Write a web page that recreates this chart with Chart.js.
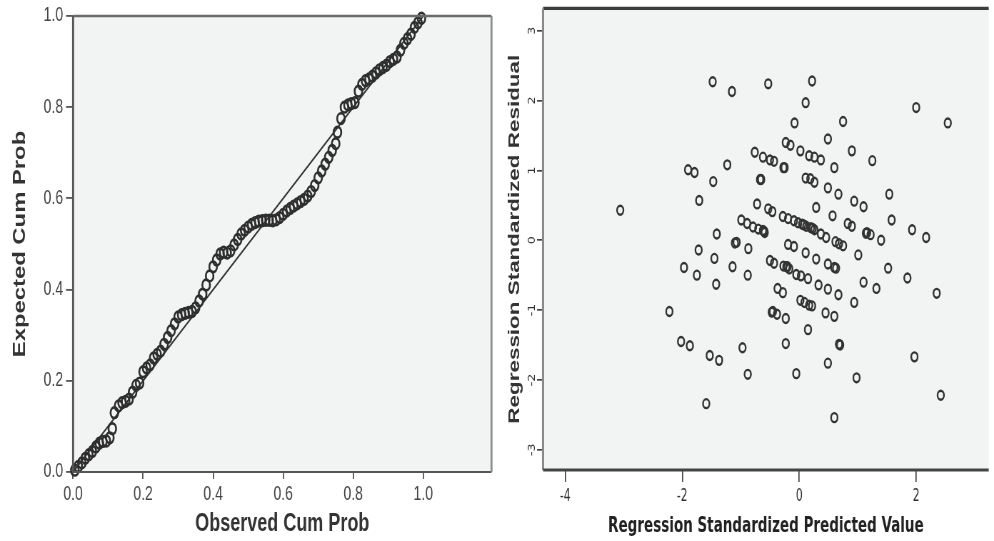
<!DOCTYPE html>
<html>
<head>
  <title>P-P Plot and Residual Scatterplot</title>
  <script src="https://cdn.jsdelivr.net/npm/chart.js@4.4.1/dist/chart.umd.min.js"></script>
  <style>
    body {
      margin: 0;
      background-color: white;
      overflow: hidden;
    }
    .panel {
      position: absolute;
      top: 0;
      transform-origin: 0 0;
    }
  </style>
</head>
<body>
  <div class="panel" id="leftPanel" style="left:0px"><canvas id="ppChart" width="497" height="386"></canvas></div>
  <div class="panel" id="rightPanel" style="left:497px"><canvas id="residChart" width="497" height="386"></canvas></div>

  <script>
    // P-P plot: observed vs expected cumulative probability
    var ppObserved = [0.005, 0.015, 0.025, 0.035, 0.045, 0.055, 0.065, 0.075, 0.085, 0.095,
      0.105, 0.112, 0.118, 0.13, 0.14, 0.15, 0.16, 0.17, 0.18, 0.19,
      0.20, 0.21, 0.22, 0.23, 0.24, 0.25, 0.26, 0.27, 0.28, 0.29,
      0.30, 0.31, 0.32, 0.33, 0.34, 0.35, 0.36, 0.37, 0.38, 0.39,
      0.40, 0.41, 0.42, 0.43, 0.44, 0.45, 0.46, 0.47, 0.48, 0.49,
      0.50, 0.51, 0.52, 0.53, 0.54, 0.55, 0.56, 0.57, 0.58, 0.59,
      0.60, 0.61, 0.62, 0.63, 0.64, 0.65, 0.66, 0.67, 0.68, 0.69,
      0.70, 0.71, 0.72, 0.73, 0.74, 0.75, 0.755, 0.765, 0.775, 0.785,
      0.795, 0.805, 0.815, 0.825, 0.835, 0.845, 0.855, 0.865, 0.875, 0.885,
      0.895, 0.905, 0.915, 0.925, 0.935, 0.945, 0.955, 0.965, 0.975, 0.985, 0.995];
    var ppExpected = [0.004, 0.012, 0.02, 0.03, 0.038, 0.045, 0.055, 0.063, 0.067, 0.068,
      0.075, 0.095, 0.13, 0.145, 0.152, 0.155, 0.16, 0.175, 0.19, 0.195,
      0.22, 0.228, 0.235, 0.25, 0.258, 0.265, 0.28, 0.295, 0.31, 0.325,
      0.34, 0.345, 0.348, 0.35, 0.352, 0.36, 0.375, 0.39, 0.41, 0.43,
      0.45, 0.465, 0.478, 0.482, 0.48, 0.485, 0.498, 0.51, 0.522, 0.53,
      0.537, 0.543, 0.547, 0.55, 0.551, 0.552, 0.552, 0.551, 0.553, 0.558,
      0.565, 0.572, 0.578, 0.583, 0.588, 0.593, 0.598, 0.605, 0.615, 0.628,
      0.645, 0.66, 0.675, 0.69, 0.705, 0.72, 0.745, 0.775, 0.80, 0.805,
      0.808, 0.81, 0.835, 0.85, 0.858, 0.862, 0.868, 0.875, 0.882, 0.887,
      0.892, 0.90, 0.905, 0.91, 0.925, 0.94, 0.95, 0.96, 0.975, 0.985, 0.995];
    var refLineX = [0, 1];
    var refLineY = [0, 1];
    var ppTicks = [0.0, 0.2, 0.4, 0.6, 0.8, 1.0];

    // Scatterplot: standardized predicted value vs standardized residual
    var predicted = [-3.06, -1.48, -1.15, -0.53, 0.22, 0.11, -0.08, 0.75, 2.00, 2.54,
      0.49, -0.23, -0.15, 0.90, 0.02, 0.17, 0.26, 0.37, 1.25, -0.76,
      -0.62, -0.50, -0.43, -0.27, -0.25, 0.60, -1.23, -1.90, -1.79, -1.47,
      -0.67, -0.65, 0.11, 0.19, 0.26, 0.49, 0.67, 1.54, -1.71, -0.72,
      -0.53, -0.46, 0.29, 0.94, 1.10, 0.57, 1.58, -0.99, -0.89, -0.79,
      -0.70, -0.62, -0.59, -0.60, -0.28, -0.19, -0.09, -0.02, 0.05, 0.08,
      0.12, 0.20, 0.23, 0.26, 0.37, 0.46, 0.83, 0.90, 1.14, 1.16,
      1.22, 1.40, 1.93, 2.17, -1.41, -1.10, -1.07, -0.87, -1.72, -0.19,
      -0.09, 0.11, 0.62, 0.68, 0.75, 1.01, 0.29, -1.45, -1.97, -1.14,
      -0.50, -0.43, -0.27, -0.22, -0.20, -0.17, 0.49, 0.60, 0.63, 1.52,
      -1.75, -0.88, -0.05, 0.03, 0.15, 1.85, -1.42, 0.33, 0.49, 1.10,
      1.32, -0.37, -0.28, 0.67, 2.35, 0.94, 0.02, 0.09, 0.17, 0.22,
      -2.22, -0.47, -0.45, -0.38, -0.23, 0.45, 0.60, 0.15, -2.02, -1.87,
      -0.97, -0.23, 0.68, 0.70, -1.53, -1.37, 1.97, 0.49, -0.88, -0.05,
      0.98, 2.42, -1.59, 0.60];
    var residual = [0.43, 2.27, 2.13, 2.24, 2.28, 1.97, 1.68, 1.70, 1.90, 1.68,
      1.45, 1.40, 1.36, 1.28, 1.28, 1.21, 1.19, 1.15, 1.14, 1.26,
      1.19, 1.15, 1.13, 1.04, 1.04, 1.04, 1.08, 1.01, 0.97, 0.84,
      0.87, 0.87, 0.89, 0.88, 0.83, 0.75, 0.66, 0.66, 0.57, 0.52,
      0.45, 0.41, 0.47, 0.56, 0.48, 0.35, 0.29, 0.29, 0.24, 0.19,
      0.16, 0.14, 0.11, 0.13, 0.34, 0.31, 0.28, 0.25, 0.23, 0.22,
      0.20, 0.18, 0.17, 0.15, 0.09, 0.04, 0.24, 0.20, 0.10, 0.11,
      0.08, 0.00, 0.15, 0.04, 0.09, -0.04, -0.03, -0.12, -0.14, -0.06,
      -0.09, -0.18, -0.02, -0.05, -0.08, -0.21, -0.27, -0.26, -0.39, -0.38,
      -0.29, -0.33, -0.37, -0.38, -0.38, -0.41, -0.34, -0.39, -0.40, -0.40,
      -0.50, -0.50, -0.49, -0.51, -0.55, -0.54, -0.63, -0.64, -0.70, -0.60,
      -0.69, -0.69, -0.75, -0.78, -0.76, -0.89, -0.86, -0.89, -0.93, -0.94,
      -1.02, -1.03, -1.02, -1.06, -1.12, -1.04, -1.09, -1.28, -1.45, -1.51,
      -1.54, -1.48, -1.49, -1.50, -1.65, -1.72, -1.67, -1.76, -1.92, -1.91,
      -1.97, -2.22, -2.34, -2.54];
    var predTicks = [-4, -2, 0, 2];
    var residTicks = [-3, -2, -1, 0, 1, 2, 3];

    // the source image is stretched vertically, so charts are drawn short and scaled up
    var H = 386;
    var S = 541 / H;
    document.getElementById('leftPanel').style.transform = 'scaleY(' + S + ')';
    document.getElementById('rightPanel').style.transform = 'scaleY(' + S + ')';

    Chart.defaults.font.family = "'Liberation Sans', Arial, sans-serif";
    var narrowFont = "'Liberation Sans Narrow', 'DejaVu Sans Condensed', 'Liberation Sans', sans-serif";

    // plot background and frame
    var plotFrame = {
      id: 'plotFrame',
      beforeDraw: function(chart, args, opts) {
        var a = chart.chartArea;
        var ctx = chart.ctx;
        ctx.save();
        ctx.fillStyle = opts.fill;
        ctx.fillRect(a.left, a.top, a.right - a.left, a.bottom - a.top);
        ctx.restore();
      },
      afterDraw: function(chart, args, opts) {
        var a = chart.chartArea;
        var ctx = chart.ctx;
        var sides = {
          top: [a.left, a.top, a.right, a.top],
          bottom: [a.left, a.bottom, a.right, a.bottom],
          left: [a.left, a.top, a.left, a.bottom],
          right: [a.right, a.top, a.right, a.bottom]
        };
        ctx.save();
        Object.keys(opts.sides).forEach(function(k) {
          var s = sides[k];
          ctx.strokeStyle = opts.sides[k][0];
          ctx.lineWidth = opts.sides[k][1];
          ctx.beginPath();
          ctx.moveTo(s[0], s[1]);
          ctx.lineTo(s[2], s[3]);
          ctx.stroke();
        });
        ctx.restore();
      }
    };

    function toPoints(xs, ys) {
      var pts = [];
      for (var i = 0; i < xs.length; i++) {
        pts.push({ x: xs[i], y: ys[i] });
      }
      return pts;
    }

    function fixedTicks(values) {
      return function(scale) {
        scale.ticks = values.map(function(v) { return { value: v }; });
      };
    }

    // Left: Normal P-P plot
    new Chart(document.getElementById('ppChart'), {
      type: 'scatter',
      data: {
        datasets: [{
          data: toPoints(ppObserved, ppExpected),
          pointRadius: 3.8,
          pointBorderWidth: 1.9,
          pointBorderColor: '#2e2e2e',
          pointBackgroundColor: 'rgba(0,0,0,0)',
          clip: false
        }, {
          type: 'line',
          data: toPoints(refLineX, refLineY),
          borderColor: '#333',
          borderWidth: 1.3,
          pointRadius: 0,
          fill: false
        }]
      },
      options: {
        responsive: false,
        devicePixelRatio: S,
        animation: false,
        events: [],
        layout: { padding: { top: 12 / S, right: 2, left: 0, bottom: 0 } },
        plugins: {
          legend: { display: false },
          tooltip: { enabled: false },
          plotFrame: {
            fill: '#f2f4f4',
            sides: { top: ['#6a6a6a', 1.8], left: ['#555', 2], bottom: ['#555', 1.6], right: ['#8c8c8c', 2] }
          }
        },
        scales: {
          x: {
            type: 'linear',
            min: 0,
            max: 1.195,
            afterBuildTicks: fixedTicks(ppTicks),
            afterFit: function(scale) { scale.height = H - 472 / S; },
            grid: { drawOnChartArea: false, tickLength: 7 / S, color: '#555', lineWidth: 1.3 },
            border: { display: false },
            ticks: {
              padding: 3,
              color: '#444',
              font: { size: 14 },
              maxRotation: 0,
              callback: function(v) { return v.toFixed(1); }
            },
            title: {
              display: true,
              text: 'Observed Cum Prob',
              color: '#333',
              font: { size: 18, weight: 'bold' },
              padding: { top: 0, bottom: 1 }
            }
          },
          y: {
            min: 0,
            max: 1,
            afterBuildTicks: fixedTicks(ppTicks),
            afterFit: function(scale) { scale.width = 73; },
            grid: { drawOnChartArea: false, tickLength: 7, color: '#555', lineWidth: 1.3 },
            border: { display: false },
            ticks: {
              padding: 3,
              color: '#444',
              font: { size: 14 },
              callback: function(v) { return v.toFixed(1); }
            },
            title: {
              display: true,
              text: 'Expected Cum Prob',
              color: '#333',
              font: { size: 17, weight: 'bold' },
              padding: { top: 10, bottom: 0 }
            }
          }
        }
      },
      plugins: [plotFrame]
    });

    // Right: residual scatterplot
    new Chart(document.getElementById('residChart'), {
      type: 'scatter',
      data: {
        datasets: [{
          data: toPoints(predicted, residual),
          pointRadius: 3.2,
          pointBorderWidth: 1.7,
          pointBorderColor: '#333',
          pointBackgroundColor: 'rgba(0,0,0,0)'
        }]
      },
      options: {
        responsive: false,
        devicePixelRatio: S,
        animation: false,
        events: [],
        layout: { padding: { top: 7 / S, right: 0, left: 0, bottom: 0 } },
        plugins: {
          legend: { display: false },
          tooltip: { enabled: false },
          plotFrame: {
            fill: '#f2f4f4',
            sides: { top: ['#3c3c3c', 2.2], left: ['#8a8a8a', 2.2], bottom: ['#444', 2] }
          }
        },
        scales: {
          x: {
            min: -4.38,
            max: 3.24,
            afterBuildTicks: fixedTicks(predTicks),
            afterFit: function(scale) { scale.height = H - 470 / S; },
            grid: { drawOnChartArea: false, tickLength: 12 / S, color: '#444', lineWidth: 1.2 },
            border: { display: false },
            ticks: {
              padding: 3,
              color: '#333',
              font: { size: 12, family: narrowFont },
              maxRotation: 0
            },
            title: {
              display: true,
              text: 'Regression Standardized Predicted Value',
              color: '#222',
              font: { size: 15, weight: 'bold', family: narrowFont },
              padding: { top: 0, bottom: 1 }
            }
          },
          y: {
            min: -3.29,
            max: 3.32,
            afterBuildTicks: fixedTicks(residTicks),
            afterFit: function(scale) { scale.width = 46; },
            grid: { drawOnChartArea: false, tickLength: 6, color: '#444', lineWidth: 1.2 },
            border: { display: false },
            ticks: {
              padding: 0,
              color: '#333',
              font: { size: 10, family: narrowFont },
              minRotation: 90,
              maxRotation: 90,
              crossAlign: 'center'
            },
            title: {
              display: true,
              text: 'Regression Standardized Residual',
              color: '#333',
              font: { size: 16, weight: 'bold' },
              padding: { top: 8, bottom: 0 }
            }
          }
        }
      },
      plugins: [plotFrame]
    });
  </script>
</body>
</html>
